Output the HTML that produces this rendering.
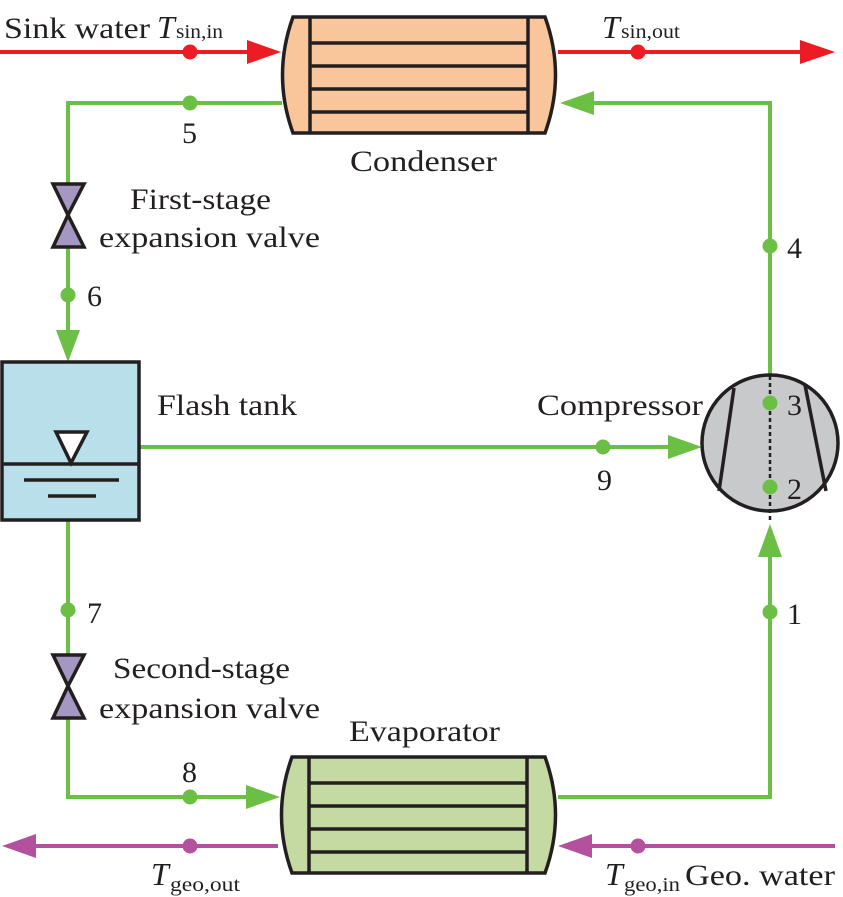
<!DOCTYPE html>
<html><head><meta charset="utf-8"><style>
html,body{margin:0;padding:0;background:#fff;}
svg{display:block;}
text{font-family:"Liberation Serif",serif;fill:#231f20;}
</style></head><body>
<svg width="843" height="897" viewBox="0 0 843 897" xmlns="http://www.w3.org/2000/svg">
<g stroke="#ed1c24" stroke-width="4" fill="none">
<line x1="0" y1="52" x2="250" y2="52"/>
<line x1="558" y1="52" x2="805" y2="52"/>
</g>
<polygon points="247,40 281,52 247,64" fill="#ed1c24"/>
<polygon points="800,40 835,52 800,64" fill="#ed1c24"/>
<circle cx="190" cy="52" r="7.5" fill="#ed1c24"/>
<circle cx="638" cy="52" r="7.5" fill="#ed1c24"/>
<g stroke="#b4519f" stroke-width="4" fill="none">
<line x1="30" y1="846" x2="278" y2="846"/>
<line x1="585" y1="846" x2="835" y2="846"/>
</g>
<polygon points="36,834 2,846 36,858" fill="#b4519f"/>
<polygon points="592,834 558,846 592,858" fill="#b4519f"/>
<circle cx="190" cy="846" r="7.5" fill="#b4519f"/>
<circle cx="638" cy="846" r="7.5" fill="#b4519f"/>
<g stroke="#6cbf45" stroke-width="4" fill="none">
<polyline points="282,103 68,103 68,183"/>
<polyline points="68,248 68,335"/>
<polyline points="68,520 68,655"/>
<polyline points="68,718 68,797 250,797"/>
<polyline points="139,447 672,447"/>
<polyline points="558,797 770,797 770,555"/>
<polyline points="770,375 770,103 590,103"/>
</g>
<polygon points="56,330 68,362 80,330" fill="#6cbf45"/>
<polygon points="246,785 280,797 246,809" fill="#6cbf45"/>
<polygon points="668,435 702,447 668,459" fill="#6cbf45"/>
<polygon points="758,557 770,524 782,557" fill="#6cbf45"/>
<polygon points="594,91 560,103 594,115" fill="#6cbf45"/>
<g fill="#6cbf45">
<circle cx="190" cy="103" r="7.5"/>
<circle cx="68" cy="295" r="7.5"/>
<circle cx="68" cy="610" r="7.5"/>
<circle cx="190" cy="797" r="7.5"/>
<circle cx="603" cy="447" r="7.5"/>
<circle cx="770" cy="612" r="7.5"/>
<circle cx="770" cy="246" r="7.5"/>
</g>
<g stroke="#231f20" stroke-width="3.5">
<path d="M293,17 L545,17 Q566,75 545,133 L293,133 Q272,75 293,17 Z" fill="#f8c69a"/>
<line x1="310" y1="17" x2="310" y2="133"/>
<line x1="528" y1="17" x2="528" y2="133"/>
<line x1="310" y1="43" x2="528" y2="43"/>
<line x1="310" y1="66" x2="528" y2="66"/>
<line x1="310" y1="89" x2="528" y2="89"/>
<line x1="310" y1="112" x2="528" y2="112"/>
</g>
<g stroke="#231f20" stroke-width="3.5">
<path d="M292,757 L545,757 Q566,815 545,873 L292,873 Q271,815 292,757 Z" fill="#c5d9a2"/>
<line x1="309" y1="757" x2="309" y2="873"/>
<line x1="527" y1="757" x2="527" y2="873"/>
<line x1="309" y1="783" x2="527" y2="783"/>
<line x1="309" y1="806" x2="527" y2="806"/>
<line x1="309" y1="829" x2="527" y2="829"/>
<line x1="309" y1="852" x2="527" y2="852"/>
</g>
<g stroke="#231f20" stroke-width="3.5" fill="#a497c2">
<polygon points="53,184 84,184 68,215 84,247 53,247 68,215"/>
<polygon points="53,655 84,655 68,686 84,718 53,718 68,686"/>
</g>
<g stroke="#231f20" stroke-width="3.5">
<rect x="2" y="362" width="137" height="158" fill="#b9dfea"/>
<line x1="2" y1="464" x2="139" y2="464"/>
<polygon points="56,432 87,432 71,463" fill="#fff"/>
<line x1="24" y1="480" x2="119" y2="480"/>
<line x1="48" y1="496" x2="96" y2="496"/>
</g>
<g stroke="#231f20" stroke-width="3.5">
<circle cx="770" cy="443" r="68" fill="#c8c9cb"/>
<line x1="734" y1="388" x2="719" y2="491"/>
<line x1="805" y1="385" x2="826" y2="491"/>
<line x1="770" y1="376" x2="770" y2="520" stroke-dasharray="4,3" stroke-width="2.5"/>
</g>
<circle cx="770" cy="403" r="7.5" fill="#6cbf45"/>
<circle cx="770" cy="487" r="7.5" fill="#6cbf45"/>
<g font-size="30">
<text x="4" y="38" textLength="146" lengthAdjust="spacingAndGlyphs">Sink water</text>
<text x="157" y="38" font-style="italic" font-size="32">T</text>
<text x="176" y="38" font-size="20" textLength="47" lengthAdjust="spacingAndGlyphs">sin,in</text>
<text x="602" y="38" font-style="italic" font-size="32">T</text>
<text x="621" y="38" font-size="20" textLength="59" lengthAdjust="spacingAndGlyphs">sin,out</text>
<text x="182" y="143">5</text>
<text x="350" y="171" textLength="147" lengthAdjust="spacingAndGlyphs">Condenser</text>
<text x="130" y="209" textLength="141" lengthAdjust="spacingAndGlyphs">First-stage</text>
<text x="99" y="247" textLength="221" lengthAdjust="spacingAndGlyphs">expansion valve</text>
<text x="87" y="306">6</text>
<text x="787" y="258">4</text>
<text x="157" y="415" textLength="140" lengthAdjust="spacingAndGlyphs">Flash tank</text>
<text x="537" y="415" textLength="166" lengthAdjust="spacingAndGlyphs">Compressor</text>
<text x="787" y="415">3</text>
<text x="787" y="499">2</text>
<text x="597" y="490">9</text>
<text x="87" y="623">7</text>
<text x="787" y="624">1</text>
<text x="113" y="678" textLength="177" lengthAdjust="spacingAndGlyphs">Second-stage</text>
<text x="99" y="718" textLength="221" lengthAdjust="spacingAndGlyphs">expansion valve</text>
<text x="349" y="741" textLength="151" lengthAdjust="spacingAndGlyphs">Evaporator</text>
<text x="182" y="782">8</text>
<text x="151" y="885" font-style="italic" font-size="32">T</text>
<text x="170" y="891" font-size="20" textLength="70" lengthAdjust="spacingAndGlyphs">geo,out</text>
<text x="605" y="885" font-style="italic" font-size="32">T</text>
<text x="624" y="891" font-size="20" textLength="56" lengthAdjust="spacingAndGlyphs">geo,in</text>
<text x="685" y="885" textLength="150" lengthAdjust="spacingAndGlyphs">Geo. water</text>
</g>
</svg>
</body></html>
